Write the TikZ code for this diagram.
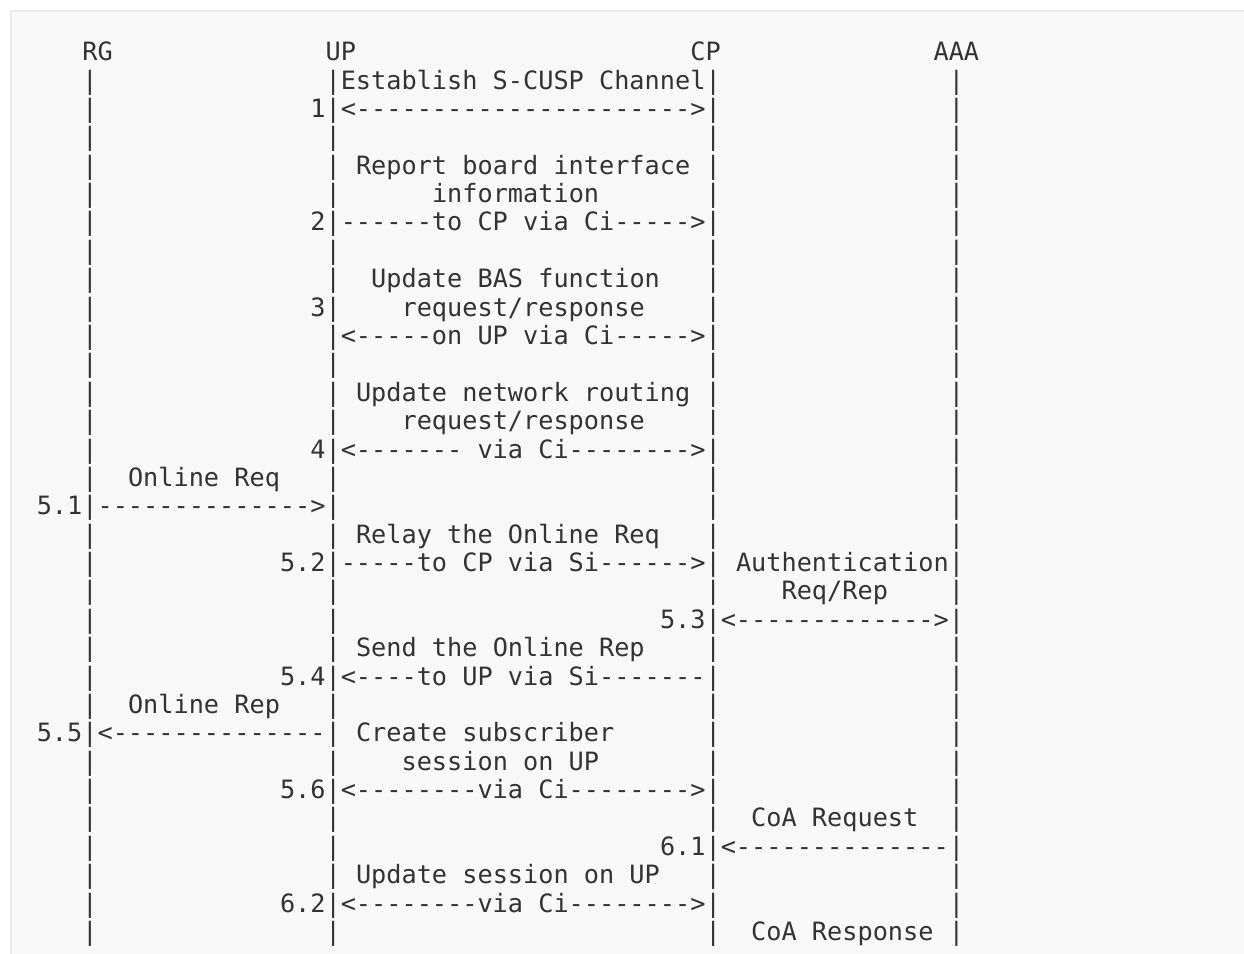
\documentclass[tikz,border=0pt]{standalone}
\usepackage{fontspec}
\setmonofont{DejaVu Sans Mono}
\definecolor{bgc}{HTML}{F8F8F8}
\definecolor{bdc}{HTML}{EBEBEB}
\definecolor{txc}{HTML}{333333}
\newcommand\tl[3]{\node[txt] (t#1-#2) at ({36.8+15.2*#2},{60.7+28.38*#1}) {#3};}
\begin{document}
\begin{tikzpicture}[x=0.5pt,y=-0.5pt,
  txt/.style={inner sep=0pt, outer sep=0pt, anchor=base west, text=txc,
    font=\ttfamily\fontsize{12.62}{14}\selectfont}]
\useasboundingbox (0,0) rectangle (1244,954);
\clip (0,0) rectangle (1244,954);
\fill[white] (0,0) rectangle (1244,954);
\filldraw[fill=bgc, draw=bdc, line width=1pt] (10.5,10.5) rectangle (1270,980);
% header
\tl{0}{3}{RG}
\tl{0}{19}{UP}
\tl{0}{43}{CP}
\tl{0}{59}{AAA}
% lifelines
\foreach \r in {1,...,31}{
  \foreach \c in {3,19,44,60}{
    \node[txt] (b\r-\c) at ({36.8+15.2*\c},{60.7+28.38*\r}) {|};
  }
}
\tl{1}{20}{Establish S-CUSP Channel}
\tl{2}{18}{1}
\tl{2}{20}{<---------------------->}
\tl{4}{21}{Report board interface}
\tl{5}{26}{information}
\tl{6}{18}{2}
\tl{6}{20}{------to CP via Ci----->}
\tl{8}{22}{Update BAS function}
\tl{9}{18}{3}
\tl{9}{24}{request/response}
\tl{10}{20}{<-----on UP via Ci----->}
\tl{12}{21}{Update network routing}
\tl{13}{24}{request/response}
\tl{14}{18}{4}
\tl{14}{20}{<------- via Ci-------->}
\tl{15}{6}{Online Req}
\tl{16}{0}{5.1}
\tl{16}{4}{-------------->}
\tl{17}{21}{Relay the Online Req}
\tl{18}{16}{5.2}
\tl{18}{20}{-----to CP via Si------>}
\tl{18}{46}{Authentication}
\tl{19}{49}{Req/Rep}
\tl{20}{41}{5.3}
\tl{20}{45}{<------------->}
\tl{21}{21}{Send the Online Rep}
\tl{22}{16}{5.4}
\tl{22}{20}{<----to UP via Si-------}
\tl{23}{6}{Online Rep}
\tl{24}{0}{5.5}
\tl{24}{4}{<--------------}
\tl{24}{21}{Create subscriber}
\tl{25}{24}{session on UP}
\tl{26}{16}{5.6}
\tl{26}{20}{<--------via Ci-------->}
\tl{27}{47}{CoA Request}
\tl{28}{41}{6.1}
\tl{28}{45}{<--------------}
\tl{29}{21}{Update session on UP}
\tl{30}{16}{6.2}
\tl{30}{20}{<--------via Ci-------->}
\tl{31}{47}{CoA Response}
\end{tikzpicture}
\end{document}
